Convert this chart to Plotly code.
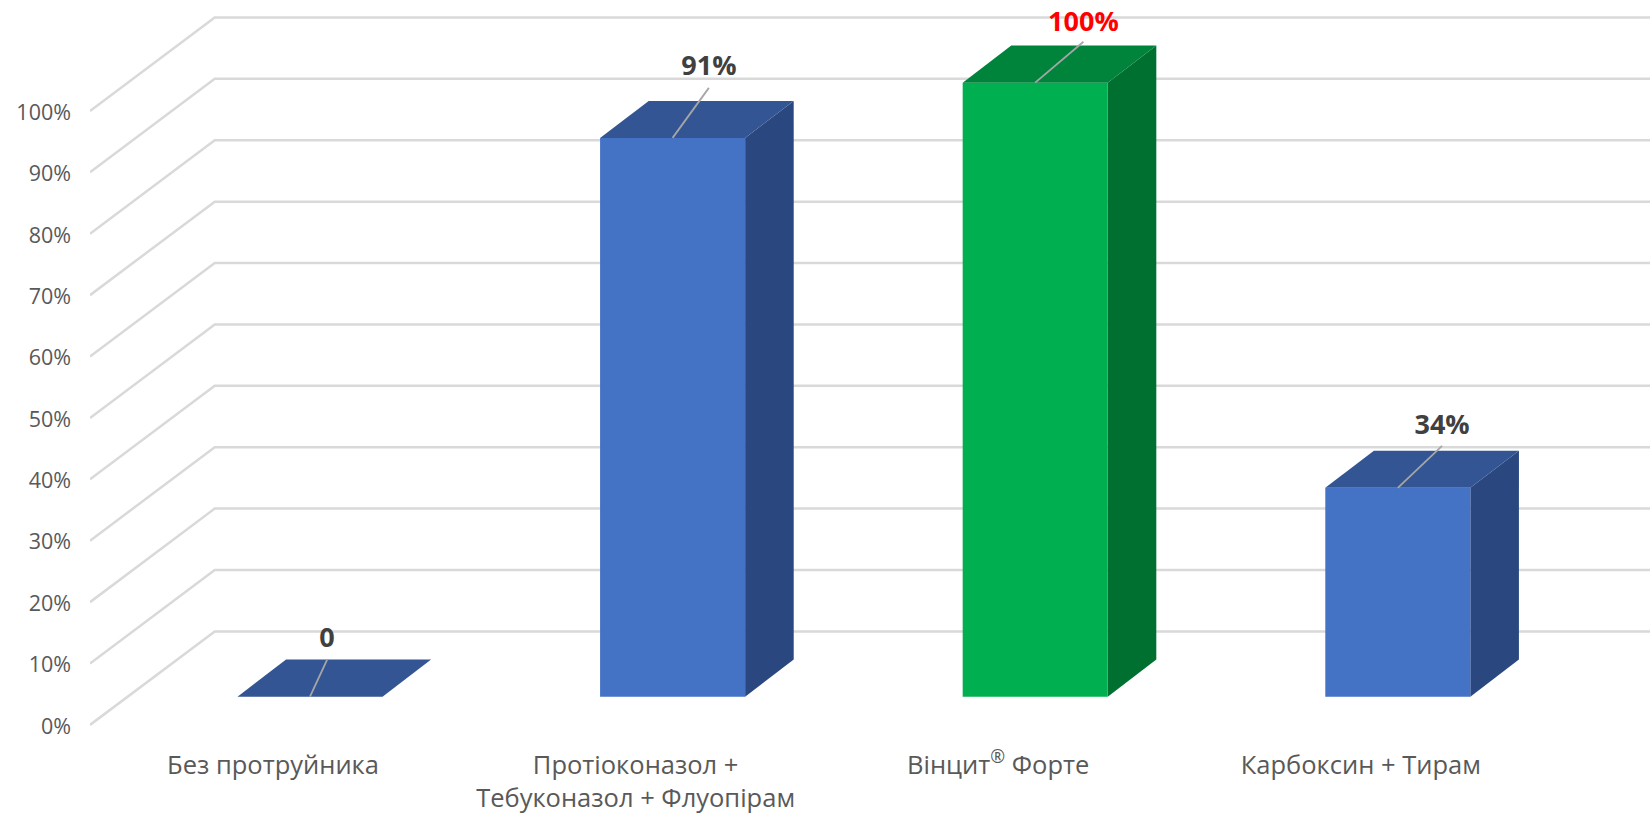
import plotly.graph_objects as go

# --- data ---
CATEGORIES = ["Без протруйника", "Протіоконазол +<br>Тебуконазол + Флуопірам", "Вінцит<sup>®</sup> Форте", "Карбоксин + Тирам"]
VALUES = [0, 91, 100, 34]
LABELS = ["0", "91%", "100%", "34%"]
Y_TICKS = list(range(0, 101, 10))
Y_TICK_TEXT = [f"{v}%" for v in Y_TICKS]

# --- palette ---
BLUE = ("#4472C4", "#335593", "#2A4780")
GREEN = ("#00B050", "#00843C", "#007030")
BAR_COLORS = [BLUE, BLUE, GREEN, BLUE]
LABEL_COLORS = ["#404040", "#404040", "#FF0000", "#404040"]
GRID = "#D9D9D9"
FONT = "Open Sans"

# --- pseudo-3D geometry, in axis units ---
X_RANGE = [-0.6067, 3.6955]
Y_RANGE = [-0.5, 118.07]
WALL_DX, WALL_DY = 0.344, 15.23
BASE_Y = 4.61
HALF_W = 0.2
BAR_DX, BAR_DY = 0.134, 6.03
TICK_SHIFT = -0.102
TICK_LABEL_NUDGE = -0.2
LEADER_DX = [0.047, 0.1, 0.133, 0.122]
LEADER_DY = [6.0, 8.15, 6.65, 6.85]
LABEL_DY = [3.2, 3.2, 2.85, 3.0]

fig = go.Figure()

def face(xs, ys, color):
    fig.add_trace(go.Scatter(x=xs + xs[:1], y=ys + ys[:1], mode="lines", fill="toself",
                             fillcolor=color, line=dict(color=color, width=0),
                             hoverinfo="skip", showlegend=False))

# gridlines: side wall + back wall
for t in Y_TICKS:
    fig.add_trace(go.Scatter(
        x=[X_RANGE[0], X_RANGE[0] + WALL_DX, X_RANGE[1]],
        y=[t, t + WALL_DY, t + WALL_DY],
        mode="lines", line=dict(color=GRID, width=2.5),
        hoverinfo="skip", showlegend=False, cliponaxis=False))

# bars
for i, (v, cols) in enumerate(zip(VALUES, BAR_COLORS)):
    l, r = i - HALF_W, i + HALF_W
    b, t = BASE_Y, BASE_Y + v
    if v > 0:
        face([r, r + BAR_DX, r + BAR_DX, r], [b, b + BAR_DY, t + BAR_DY, t], cols[2])
        face([l, r, r, l], [b, b, t, t], cols[0])
    face([l, r, r + BAR_DX, l + BAR_DX], [t, t, t + BAR_DY, t + BAR_DY], cols[1])

# leader lines + data labels
for i, v in enumerate(VALUES):
    t = BASE_Y + v
    fig.add_trace(go.Scatter(x=[i, i + LEADER_DX[i]], y=[t, t + LEADER_DY[i]], mode="lines",
                             line=dict(color="#A6A6A6", width=1.8),
                             hoverinfo="skip", showlegend=False))
    fig.add_trace(go.Scatter(x=[i + LEADER_DX[i]], y=[t + LEADER_DY[i] + LABEL_DY[i]],
                             mode="text", text=[LABELS[i]], textposition="middle center",
                             textfont=dict(family=FONT, size=27, color=LABEL_COLORS[i], weight="bold"),
                             hoverinfo="skip", showlegend=False, cliponaxis=False))

fig.update_layout(
    width=1650, height=813, autosize=False,
    margin=dict(l=90, r=0, t=0, b=85, pad=0),
    paper_bgcolor="white", plot_bgcolor="white",
    showlegend=False,
    xaxis=dict(range=X_RANGE, showgrid=False, zeroline=False, showline=False,
               tickmode="array", tickvals=[i + TICK_SHIFT for i in range(len(CATEGORIES))],
               ticktext=CATEGORIES, ticks="", ticklabelstandoff=19,
               tickangle=0, tickfont=dict(family=FONT, size=25.5, color="#595959")),
    yaxis=dict(range=Y_RANGE, showgrid=False, zeroline=False, showline=False,
               tickmode="array", tickvals=[t + TICK_LABEL_NUDGE for t in Y_TICKS],
               ticktext=Y_TICK_TEXT, ticks="",
               ticklabelstandoff=18, tickfont=dict(family=FONT, size=21.5, color="#595959")),
)

fig.write_html("out.html", config={"displayModeBar": False},
               post_script="document.body.style.margin='0';document.body.style.overflow='hidden';")
